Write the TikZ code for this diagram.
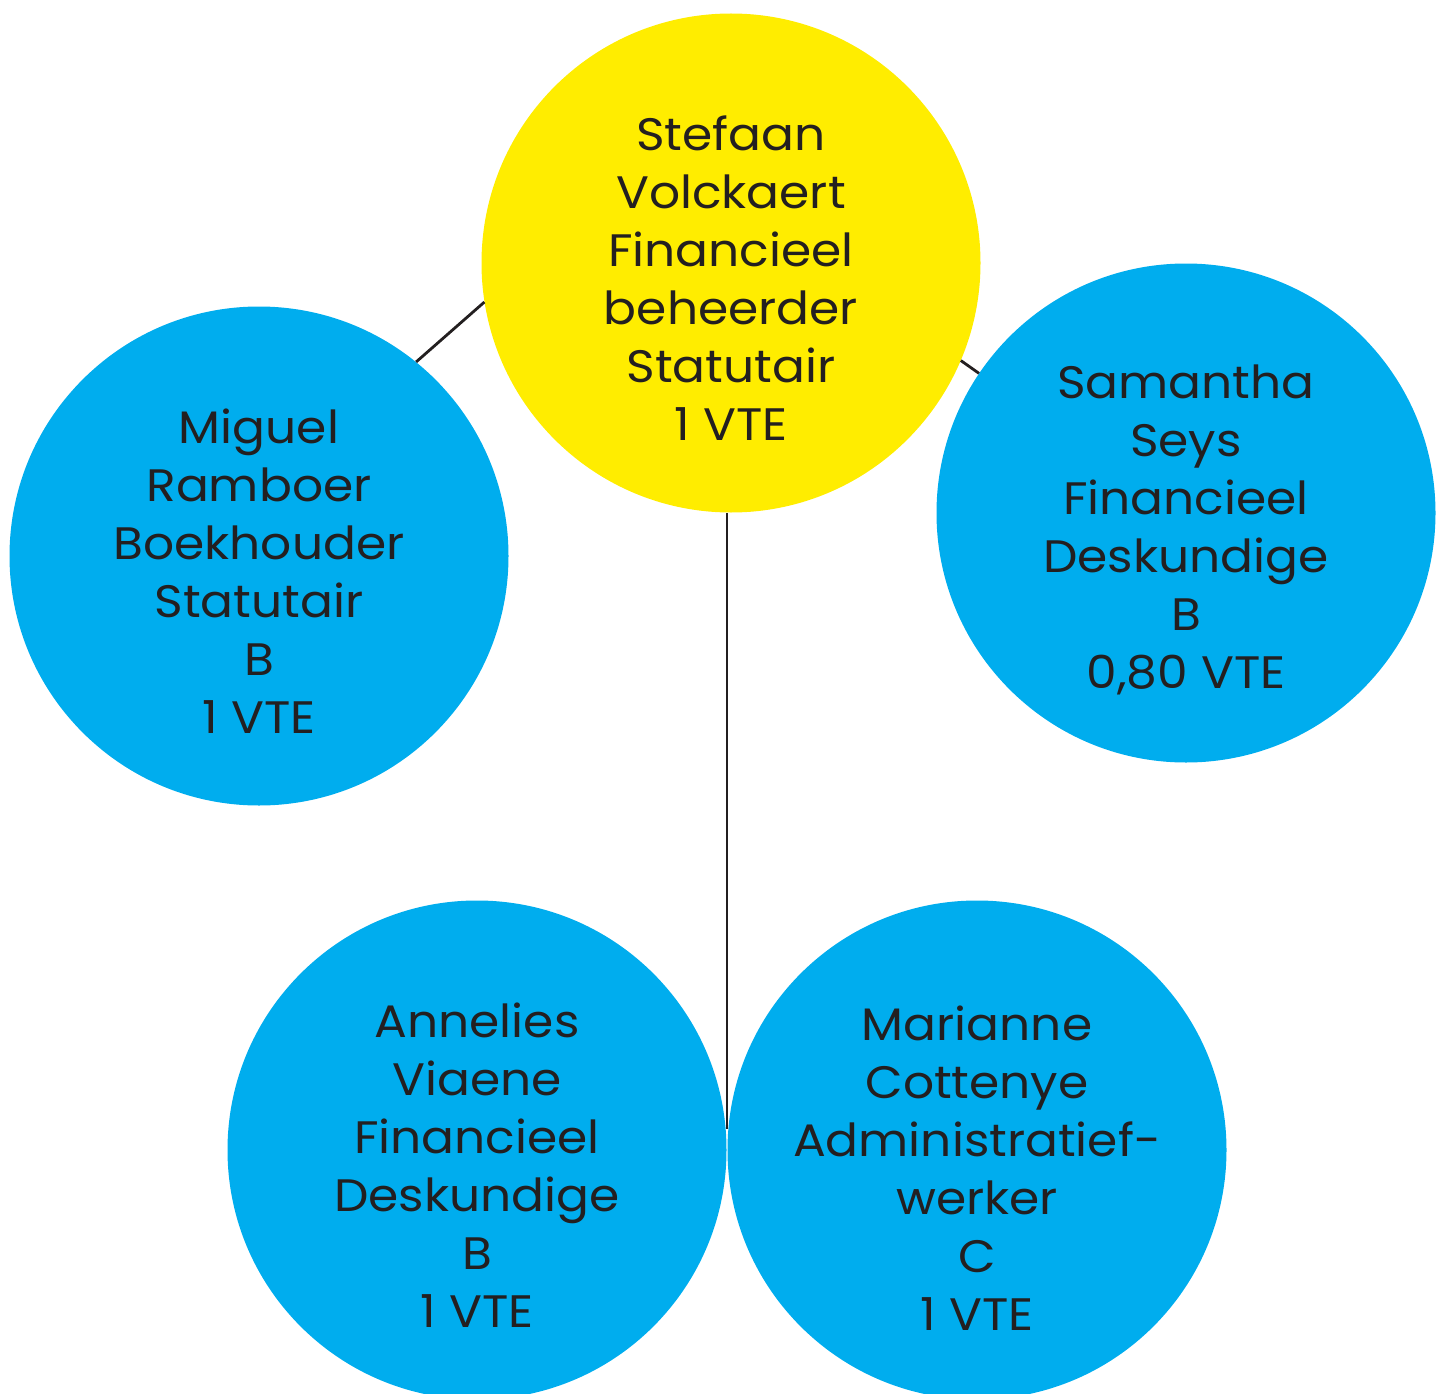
\documentclass[tikz,border=0pt]{standalone}
\usepackage{fontspec}
\setmainfont{Poppins}[FakeStretch=1.07]
\definecolor{ybg}{HTML}{FFED00}
\definecolor{bbg}{HTML}{00ADEE}
\definecolor{txt}{HTML}{231F20}
\tikzset{
  bubble/.style={circle, minimum size=499pt, inner sep=0pt, draw=none},
  ybubble/.style={bubble, fill=ybg},
  bbubble/.style={bubble, fill=bbg},
  lbl/.style={align=center, text=txt, font=\fontsize{45.5pt}{58pt}\selectfont, inner sep=0pt},
  link/.style={draw=txt, line width=2.8pt}
}
\begin{document}
\begin{tikzpicture}[x=1pt,y=-1pt]
\useasboundingbox (0,0) rectangle (1444,1394);
\node[ybubble] (stef) at (731,263) {};
\node[bbubble] (miguel) at (259,556) {};
\node[bbubble] (sam) at (1186,513) {};
\coordinate (top) at (727,513);
\coordinate (bot) at (727,1129);
\draw[link] (top) -- (bot);
\node[bbubble] (ann) at (477,1150) {};
\node[bbubble] (mar) at (977,1150) {};
\draw[link] (stef.189.7) -- (miguel.51.7);
\draw[link] (stef.337.2) -- (sam.146.8);
\node[lbl] (t1) at (731,278) {Stefaan\\Volckaert\\Financieel\\beheerder\\Statutair\\1 VTE};
\node[lbl] (t2) at (259,571) {Miguel\\Ramboer\\Boekhouder\\Statutair\\B\\1 VTE};
\node[lbl] (t3) at (1186,530) {Samantha\\Seys\\Financieel\\Deskundige\\B\\0,80 VTE};
\node[lbl] (t4) at (477,1165) {Annelies\\Viaene\\Financieel\\Deskundige\\B\\1 VTE};
\node[lbl] (t5) at (977,1168) {Marianne\\Cottenye\\Administratief-\\werker\\C\\1 VTE};
\end{tikzpicture}
\end{document}
